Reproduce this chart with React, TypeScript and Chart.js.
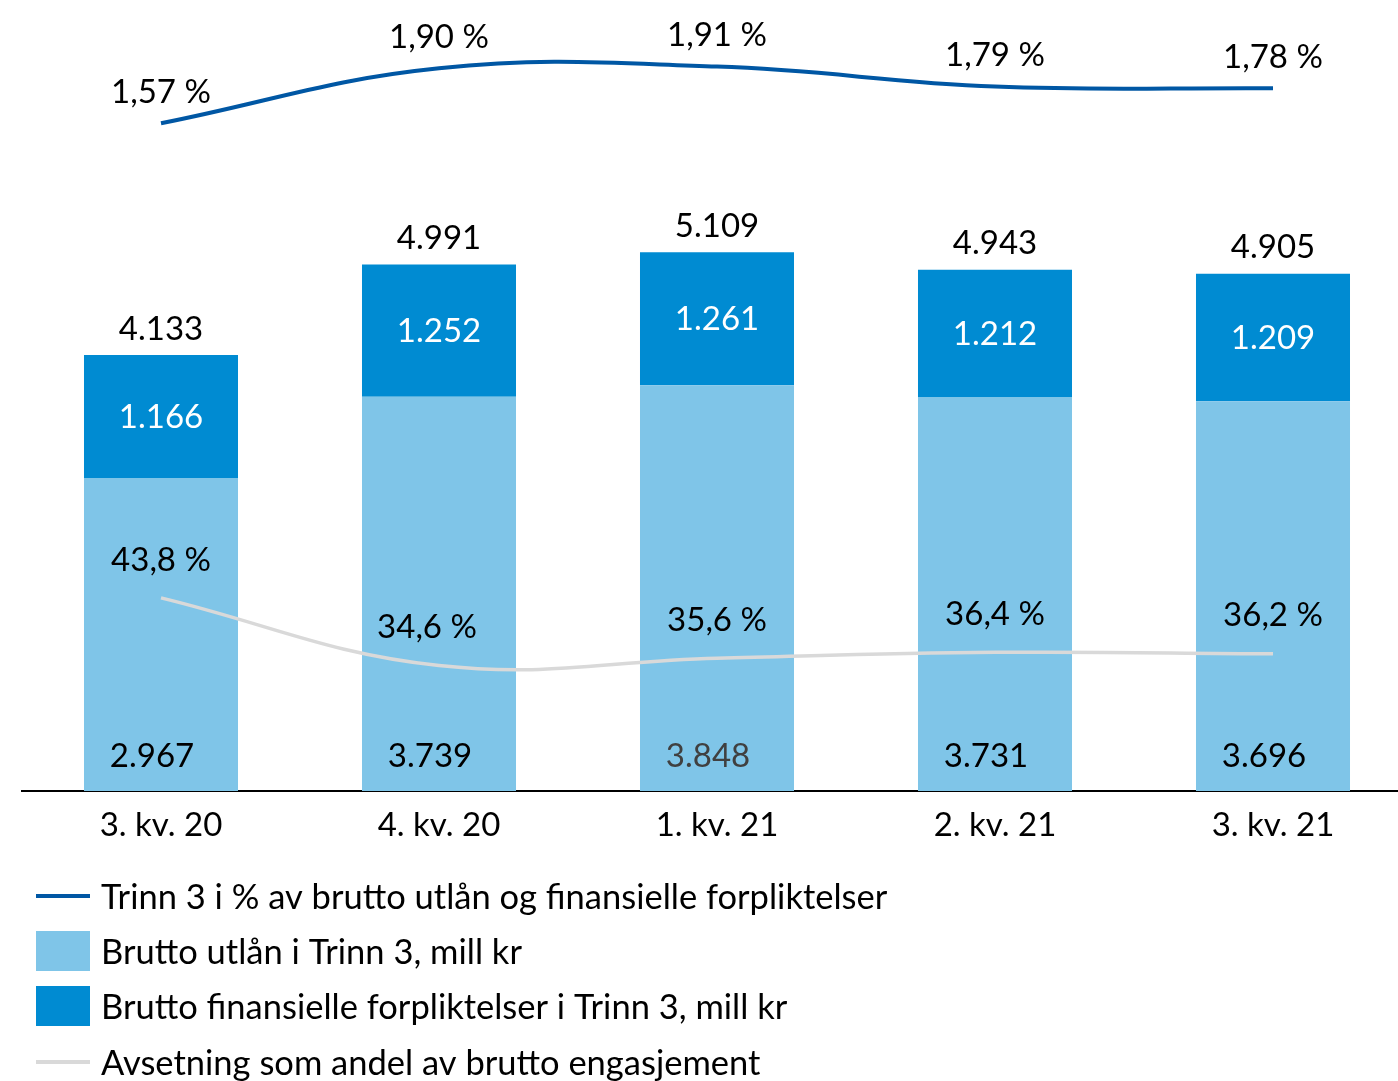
import React, { useEffect, useRef } from "react";
import { Chart, registerables } from "chart.js";

Chart.register(...registerables);

const categories = ["3. kv. 20", "4. kv. 20", "1. kv. 21", "2. kv. 21", "3. kv. 21"];
const bruttoUtlan = [2967, 3739, 3848, 3731, 3696];
const bruttoForpliktelser = [1166, 1252, 1261, 1212, 1209];
const trinn3Pct = [1.57, 1.9, 1.91, 1.79, 1.78];
const avsetningPct = [43.8, 34.6, 35.6, 36.4, 36.2];
const seriesNames = [
  "Trinn 3 i % av brutto utlån og finansielle forpliktelser",
  "Brutto utlån i Trinn 3, mill kr",
  "Brutto finansielle forpliktelser i Trinn 3, mill kr",
  "Avsetning som andel av brutto engasjement",
];

const FONT = "Lato, 'Open Sans', sans-serif";
const FS = 33;
const LFS = 34.5;
const C_LIGHT = "#7fc5e8";
const C_DARK = "#008bd2";
const C_BLUE = "#0057a4";
const C_GRAY = "#d9d9d9";

const fmtInt = (v: number) => String(v).replace(/\B(?=(\d{3})+(?!\d))/g, ".");
const fmtPct = (v: number, d: number) => v.toFixed(d).replace(".", ",") + " %";

const labelPlugin = {
  id: "labels",
  afterDatasetsDraw(chart: any) {
    const ctx = chart.ctx;
    ctx.save();
    ctx.font = `${FS}px ${FONT}`;
    ctx.textAlign = "center";
    ctx.textBaseline = "middle";
    const mUt = chart.getDatasetMeta(1);
    const mFo = chart.getDatasetMeta(2);
    const mTr = chart.getDatasetMeta(0);
    const mAv = chart.getDatasetMeta(3);
    categories.forEach((_, i) => {
      const bu = mUt.data[i];
      const bf = mFo.data[i];
      ctx.fillStyle = i === 2 ? "#404040" : "#000000";
      ctx.fillText(fmtInt(bruttoUtlan[i]), bu.x - 9, bu.base - 35);
      ctx.fillStyle = "#ffffff";
      ctx.fillText(fmtInt(bruttoForpliktelser[i]), bf.x, (bf.y + bf.base) / 2 + 1);
      ctx.fillStyle = "#000000";
      ctx.fillText(fmtInt(bruttoUtlan[i] + bruttoForpliktelser[i]), bf.x, bf.y - 26);
      const pt = mTr.data[i];
      ctx.fillText(fmtPct(trinn3Pct[i], 2), pt.x, pt.y - 31);
      const pa = mAv.data[i];
      ctx.fillText(fmtPct(avsetningPct[i], 1), pa.x - (i === 1 ? 12 : 0), pa.y - 38);
    });
    ctx.restore();
  },
  afterDraw(chart: any) {
    const ctx = chart.ctx;
    ctx.save();
    ctx.font = `${LFS}px ${FONT}`;
    ctx.textAlign = "left";
    ctx.textBaseline = "middle";
    const ys = [896, 951, 1006, 1062];
    const kinds = ["line", "box", "box", "line"];
    const colors = [C_BLUE, C_LIGHT, C_DARK, C_GRAY];
    seriesNames.forEach((name, i) => {
      const y = ys[i];
      if (kinds[i] === "line") {
        ctx.strokeStyle = colors[i];
        ctx.lineWidth = 4;
        ctx.beginPath();
        ctx.moveTo(36, y);
        ctx.lineTo(90, y);
        ctx.stroke();
      } else {
        ctx.fillStyle = colors[i];
        ctx.fillRect(36, y - 20, 54, 40);
      }
      ctx.fillStyle = "#000000";
      ctx.fillText(name, 101, y + 2);
    });
    ctx.restore();
  },
};

export default function App() {
  const ref = useRef<HTMLCanvasElement>(null);
  useEffect(() => {
    if (!ref.current) return;
    const chart = new Chart(ref.current, {
      type: "bar",
      data: {
        labels: categories,
        datasets: [
          {
            type: "line",
            label: seriesNames[0],
            data: trinn3Pct,
            yAxisID: "y2",
            borderColor: C_BLUE,
            borderWidth: 4,
            pointRadius: 0,
            tension: 0.4,
            order: 0,
          } as any,
          {
            type: "bar",
            label: seriesNames[1],
            data: bruttoUtlan,
            backgroundColor: C_LIGHT,
            yAxisID: "y",
            stack: "s",
            order: 1,
            barPercentage: 1,
            categoryPercentage: 0.554,
          },
          {
            type: "bar",
            label: seriesNames[2],
            data: bruttoForpliktelser,
            backgroundColor: C_DARK,
            yAxisID: "y",
            stack: "s",
            order: 2,
            barPercentage: 1,
            categoryPercentage: 0.554,
          },
          {
            type: "line",
            label: seriesNames[3],
            data: avsetningPct,
            yAxisID: "y3",
            borderColor: C_GRAY,
            borderWidth: 3.5,
            pointRadius: 0,
            tension: 0.4,
            order: 0,
          } as any,
        ],
      },
      options: {
        responsive: false,
        animation: false,
        layout: { padding: { left: 22, right: 8, top: 0, bottom: 0 } },
        plugins: { legend: { display: false }, tooltip: { enabled: false } },
        scales: {
          x: {
            stacked: true,
            grid: { display: false, drawTicks: false },
            border: { display: true, color: "#000000", width: 2 },
            ticks: { color: "#000000", font: { family: FONT, size: FS }, padding: 15 },
            afterFit: (s: any) => {
              s.height = 290;
            },
          },
          y: { stacked: true, display: false, min: 0, max: 7500 },
          y2: { display: false, min: -2.44, max: 2.31 },
          y3: { display: false, min: 17.56, max: 125.04 },
        },
      },
      plugins: [labelPlugin],
    });
    return () => chart.destroy();
  }, []);
  return (
    <div style={{ position: "fixed", left: 0, top: 0, width: 1398, height: 1081, overflow: "hidden", background: "#fff" }}>
      <canvas ref={ref} width={1420} height={1081} style={{ width: 1420, height: 1081, display: "block" }} />
    </div>
  );
}
